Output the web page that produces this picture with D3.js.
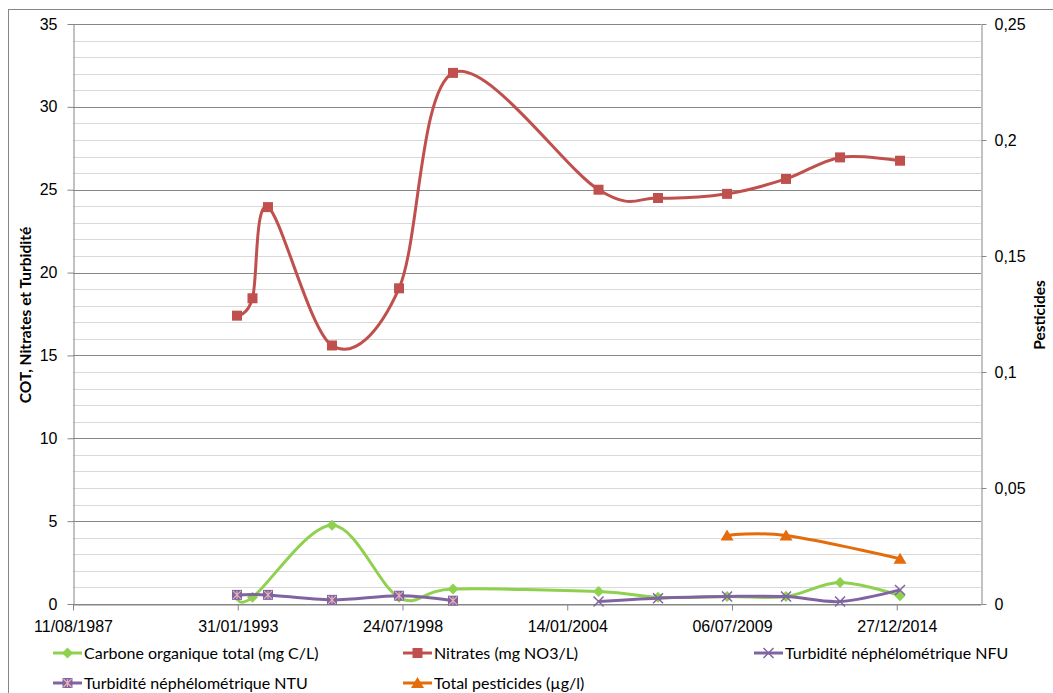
<!DOCTYPE html>
<html>
<head>
<meta charset="utf-8">
<script src="https://cdn.jsdelivr.net/npm/d3@7"></script>
<style>
  body { margin: 0; background: #fff; }
  svg { display: block; font-family: Lato, "Open Sans", sans-serif; }
</style>
</head>
<body>
<svg width="1053" height="693"></svg>
<script>
const svg = d3.select("svg");

// x axis tick labels (every 2000 days) and domain end
const xTickLabels = ["11/08/1987", "31/01/1993", "24/07/1998", "14/01/2004", "06/07/2009", "27/12/2014"];
const xDomainEnd = "15/10/2017";

const leftTicks = [0, 5, 10, 15, 20, 25, 30, 35];
const rightTicks = [0, 0.05, 0.1, 0.15, 0.2, 0.25];
const rightTickLabels = ["0", "0,05", "0,1", "0,15", "0,2", "0,25"];

// series
const nitrateDates = ["22/01/1993", "29/07/1993", "02/02/1994", "20/03/1996", "12/06/1998", "28/03/2000",
  "28/01/2005", "20/01/2007", "07/05/2009", "23/04/2011", "07/02/2013", "05/02/2015"];
const nitrateValues = [17.4, 18.45, 23.95, 15.6, 19.05, 32.05, 25.0, 24.5, 24.75, 25.65, 26.95, 26.75];

const cotDates = ["22/01/1993", "29/07/1993", "20/03/1996", "12/06/1998", "28/03/2000",
  "28/01/2005", "20/01/2007", "07/05/2009", "23/04/2011", "07/02/2013", "05/02/2015"];
const cotValues = [0.5, 0.4, 4.75, 0.4, 0.9, 0.75, 0.4, 0.45, 0.45, 1.3, 0.5];

const nfuDates = ["28/01/2005", "20/01/2007", "07/05/2009", "23/04/2011", "07/02/2013", "05/02/2015"];
const nfuValues = [0.15, 0.35, 0.45, 0.45, 0.15, 0.85];

const ntuDates = ["22/01/1993", "02/02/1994", "20/03/1996", "12/06/1998", "28/03/2000"];
const ntuValues = [0.55, 0.55, 0.25, 0.5, 0.2];

const pestDates = ["07/05/2009", "23/04/2011", "05/02/2015"];
const pestValues = [0.0295, 0.0295, 0.0195];

const legendLabels = ["Carbone organique total (mg C/L)", "Nitrates (mg NO3/L)", "Turbidité néphélométrique NFU",
  "Turbidité néphélométrique NTU", "Total pesticides (µg/l)"];

const parse = d3.timeParse("%d/%m/%Y");
const fmt = d3.timeFormat("%d/%m/%Y");

const plot = { left: 73, right: 981, top: 24, bottom: 604 };

const x = d3.scaleTime()
  .domain([parse(xTickLabels[0]), parse(xDomainEnd)])
  .range([plot.left, plot.right]);
const y = d3.scaleLinear().domain([0, 35]).range([plot.bottom, plot.top]);
const y2 = d3.scaleLinear().domain([0, 0.25]).range([plot.bottom, plot.top]);

// outer frame (only left/top visible)
svg.append("rect")
  .attr("x", 8.5).attr("y", 9.5)
  .attr("width", 1100).attr("height", 800)
  .attr("fill", "none").attr("stroke", "#868686").attr("stroke-width", 1);

// gridlines
const minor = d3.range(0, 36).filter(v => v % 5 !== 0);
svg.append("g").selectAll("line")
  .data(minor)
  .join("line")
  .attr("x1", plot.left).attr("x2", plot.right)
  .attr("y1", d => Math.round(y(d)) + 0.5).attr("y2", d => Math.round(y(d)) + 0.5)
  .attr("stroke", "#d9d9d9");
svg.append("g").selectAll("line")
  .data(leftTicks)
  .join("line")
  .attr("x1", plot.left).attr("x2", plot.right)
  .attr("y1", d => Math.round(y(d)) + 0.5).attr("y2", d => Math.round(y(d)) + 0.5)
  .attr("stroke", "#868686");

// axes
const axisStyle = g => {
  g.select(".domain").attr("stroke", "#868686");
  g.selectAll(".tick line").attr("stroke", "#868686");
  g.selectAll(".tick text").attr("fill", "#000").style("font-size", "16px");
};

svg.append("g")
  .attr("transform", `translate(${plot.left + 0.5},0)`)
  .call(d3.axisLeft(y).tickValues(leftTicks).tickSize(6).tickPadding(10).tickSizeOuter(0))
  .call(axisStyle);

svg.append("g")
  .attr("transform", `translate(${plot.right + 0.5},0)`)
  .call(d3.axisRight(y2).tickValues(rightTicks).tickSize(5).tickPadding(8).tickSizeOuter(0)
    .tickFormat((d, i) => rightTickLabels[i]))
  .call(axisStyle);

svg.append("g")
  .attr("transform", `translate(0,${plot.bottom + 0.5})`)
  .call(d3.axisBottom(x).tickValues(xTickLabels.map(parse)).tickSize(6).tickPadding(10).tickSizeOuter(0)
    .tickFormat(fmt))
  .call(axisStyle);

// axis titles
svg.append("text")
  .attr("transform", "translate(31,315) rotate(-90)")
  .attr("text-anchor", "middle")
  .style("font-size", "15.5px").style("font-weight", "bold")
  .text("COT, Nitrates et Turbidité");
svg.append("text")
  .attr("transform", "translate(1045,315) rotate(-90)")
  .attr("text-anchor", "middle")
  .style("font-size", "15.5px").style("font-weight", "bold")
  .text("Pesticides");

// series
const curve = d3.curveCatmullRom.alpha(0);
const series = [
  { dates: cotDates, values: cotValues, scale: y, color: "#8fd14f", marker: "diamond" },
  { dates: nitrateDates, values: nitrateValues, scale: y, color: "#c0504d", marker: "square" },
  { dates: nfuDates, values: nfuValues, scale: y, color: "#8064a2", marker: "x" },
  { dates: ntuDates, values: ntuValues, scale: y, color: "#8064a2", marker: "boxx" },
  { dates: pestDates, values: pestValues, scale: y2, color: "#e46c0a", marker: "triangle" }
];

function drawMarker(g, type, color, cx, cy) {
  if (type === "diamond") {
    g.append("path").attr("d", `M${cx},${cy - 5.5}L${cx + 5.5},${cy}L${cx},${cy + 5.5}L${cx - 5.5},${cy}Z`)
      .attr("fill", color);
  } else if (type === "square") {
    g.append("rect").attr("x", cx - 5).attr("y", cy - 5).attr("width", 10).attr("height", 10)
      .attr("fill", color);
  } else if (type === "x") {
    g.append("path").attr("d", `M${cx - 5},${cy - 5}L${cx + 5},${cy + 5}M${cx - 5},${cy + 5}L${cx + 5},${cy - 5}`)
      .attr("stroke", color).attr("stroke-width", 1.5);
  } else if (type === "boxx") {
    g.append("rect").attr("x", cx - 5).attr("y", cy - 5).attr("width", 10).attr("height", 10)
      .attr("fill", color);
    g.append("path").attr("d", `M${cx - 4},${cy - 4}L${cx + 4},${cy + 4}M${cx - 4},${cy + 4}L${cx + 4},${cy - 4}M${cx},${cy - 4}L${cx},${cy + 4}`)
      .attr("stroke", "#e8b4b4").attr("stroke-width", 1.1);
  } else if (type === "triangle") {
    g.append("path").attr("d", `M${cx},${cy - 6}L${cx + 6.5},${cy + 5}L${cx - 6.5},${cy + 5}Z`)
      .attr("fill", color);
  }
}

series.forEach(s => {
  const pts = s.dates.map((d, i) => [x(parse(d)), s.scale(s.values[i])]);
  const g = svg.append("g");
  g.append("path")
    .attr("d", d3.line().curve(curve)(pts))
    .attr("fill", "none")
    .attr("stroke", s.color)
    .attr("stroke-width", 3)
    .attr("stroke-linejoin", "round");
  pts.forEach(p => drawMarker(g, s.marker, s.color, p[0], p[1]));
});

// legend
const legendPos = [[53, 653], [403, 653], [754, 653], [53, 683], [403, 683]];
series.forEach((s, i) => {
  const [lx, ly] = legendPos[i];
  const g = svg.append("g");
  g.append("line").attr("x1", lx).attr("x2", lx + 29).attr("y1", ly).attr("y2", ly)
    .attr("stroke", s.color).attr("stroke-width", 3);
  drawMarker(g, s.marker, s.color, lx + 14.5, ly);
  g.append("text").attr("x", lx + 31).attr("y", ly).attr("dy", "0.35em")
    .style("font-size", "16px").text(legendLabels[i]);
});
</script>
</body>
</html>
